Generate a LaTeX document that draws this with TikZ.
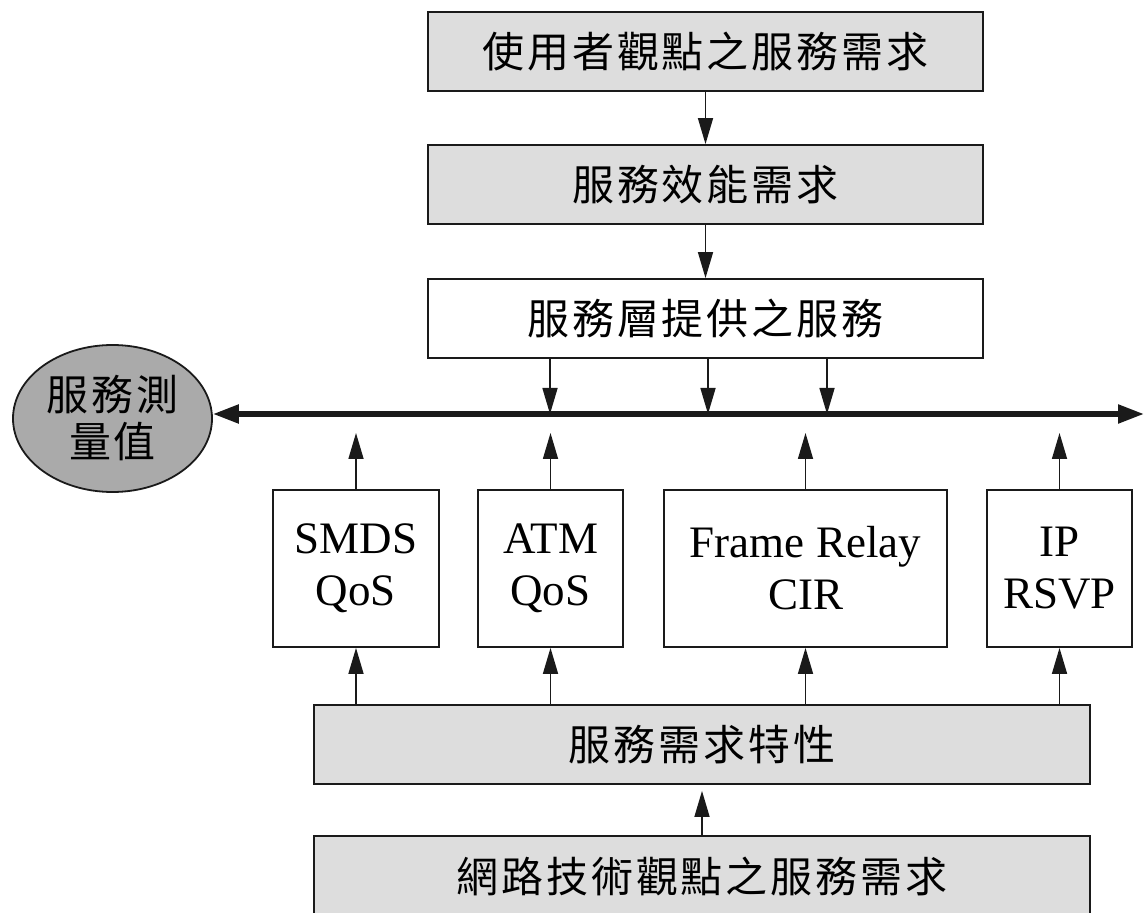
\documentclass[tikz,border=0pt]{standalone}
\usepackage{fontspec}
\setmainfont{Liberation Serif}
\newfontfamily\cjk[LetterSpace=7]{Noto Sans CJK TC}
\usepackage{tikz}
\usetikzlibrary{positioning, arrows.meta, shapes.geometric}
\definecolor{BoxGray}{RGB}{221,221,221}
\definecolor{MeasGray}{RGB}{170,170,170}
\definecolor{LineBlack}{RGB}{26,26,26}
\tikzset{
  reqbox/.style={draw=LineBlack, line width=0.9pt, inner sep=0pt, minimum height=39.5pt,
    font=\cjk\fontsize{21}{25}\selectfont, align=center},
  grayreq/.style={reqbox, fill=BoxGray},
  techbox/.style={draw=LineBlack, line width=0.9pt, inner sep=0pt, minimum height=78.5pt,
    font=\fontsize{22.5}{26}\selectfont, align=center},
  measnode/.style={ellipse, draw=LineBlack, line width=0.9pt, fill=MeasGray, inner sep=0pt,
    minimum width=99.5pt, minimum height=73.5pt, font=\cjk\fontsize{21}{23.5}\selectfont, align=center},
  flowarrow/.style={-{Triangle[length=13pt,width=7.5pt]}, line width=0.8pt, LineBlack},
  busarrow/.style={{Triangle[length=13pt,width=9pt]}-{Triangle[length=13pt,width=9pt]},
    line width=2.6pt, LineBlack},
}

\begin{document}
\begin{tikzpicture}[x=0.5pt, y=-0.5pt]
  \useasboundingbox (0,0) rectangle (1144,913);
  \clip (0,0) rectangle (1144,913);

  % service view, top to bottom
  \node[grayreq, minimum width=277.5pt] (userreq) at (705.5,51.5) {使用者觀點之服務需求};
  \node[grayreq, minimum width=277.5pt] (perfreq) at (705.5,184.5) {服務效能需求};
  \node[reqbox, fill=white, minimum width=277.5pt] (layersvc) at (705.5,318.5) {服務層提供之服務};
  \draw[flowarrow] (userreq) -- (perfreq);
  \draw[flowarrow] (perfreq) -- (layersvc);

  % measurement bus
  \node[measnode] (measure) at (112.5,418.5) {服務測\\量值};
  \coordinate (busR) at (1144,414);
  \coordinate (busA) at (550,414);
  \coordinate (busB) at (708,414);
  \coordinate (busC) at (827,414);
  \draw[busarrow] (busR -| measure.east) -- (busR);
  \foreach \c in {busA,busB,busC}
    \draw[flowarrow] (layersvc.south -| \c) -- (\c);

  % network technologies
  \node[techbox, minimum width=83pt] (smds) at (356,568.5) {SMDS\\QoS};
  \node[techbox, minimum width=72.5pt] (atm) at (550.5,568.5) {ATM\\QoS};
  \node[techbox, minimum width=141.5pt] (frcir) at (805.5,568.5) {Frame Relay\\CIR};
  \node[techbox, minimum width=72.5pt] (iprsvp) at (1059.5,568.5) {IP\\RSVP};
  \coordinate (uplevel) at (0,433);

  \node[grayreq, minimum width=388pt] (svcchar) at (702,744.5) {服務需求特性};
  \node[grayreq, minimum width=388pt, minimum height=40pt] (netreq) at (702,876) {網路技術觀點之服務需求};

  \foreach \b in {smds,atm,frcir,iprsvp} {
    \draw[flowarrow] (\b.north) -- (\b.north |- uplevel);
    \draw[flowarrow] (svcchar.north -| \b) -- (\b.south);
  }
  \draw[flowarrow, shorten >=3pt] (netreq) -- (svcchar);
\end{tikzpicture}
\end{document}
